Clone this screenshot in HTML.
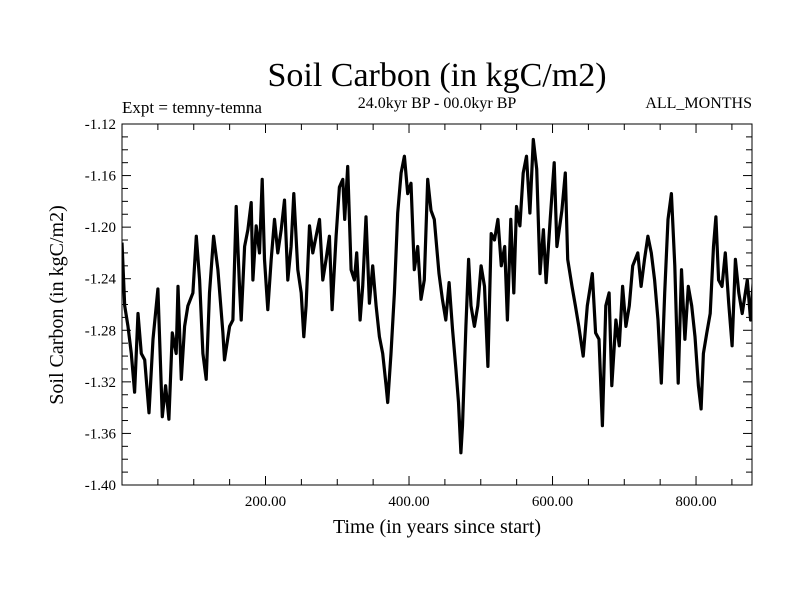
<!DOCTYPE html>
<html><head><meta charset="utf-8"><style>
body{margin:0;background:#fff;width:800px;height:600px;overflow:hidden}
svg{font-family:"Liberation Serif",serif}
</style></head><body>
<svg id="chart" width="800" height="600">
<text x="437" y="86" font-size="34" text-anchor="middle">Soil Carbon (in kgC/m2)</text>
<text x="122" y="113" font-size="17">Expt = temny-temna</text>
<text x="437" y="108" font-size="16" text-anchor="middle">24.0kyr BP - 00.0kyr BP</text>
<text x="752" y="108" font-size="16" text-anchor="end">ALL_MONTHS</text>
<text x="437" y="533" font-size="20" text-anchor="middle">Time (in years since start)</text>
<text transform="translate(63,305) rotate(-90)" font-size="20" text-anchor="middle">Soil Carbon (in kgC/m2)</text>
<g id="ticks"></g>
<clipPath id="clip"><rect x="122" y="124" width="630" height="361"/></clipPath>
<path id="series" fill="none" stroke="#000" stroke-width="3.2" stroke-linejoin="round" clip-path="url(#clip)"/>
<rect x="122" y="124" width="630" height="361" fill="none" stroke="#000" stroke-width="1"/>
</svg>
<script>
const years=[0,3.7,8.4,13,17.6,22.3,26.9,31.6,37.6,43.2,50.1,56.1,60.8,65.4,70.1,75.6,78,82.6,87.2,91.9,98.8,103.5,108.1,112.8,117.4,122,127.6,133.6,140.6,142.9,149.9,154.5,159.2,163.8,166.1,170.8,175.4,180,182.4,187,191.6,195.4,198.6,203.2,207.9,212.5,217.2,221.8,226.5,231.1,235.7,239.4,245,249.7,253.4,256.6,261.3,265.9,270.5,275.2,279.8,284.5,289.1,292.8,298.4,303,307.7,310.4,314.6,319.3,323.9,327.1,331.8,335.5,340.1,344.8,349.4,354.1,358.7,363.3,368,370.3,374.9,379.6,384.2,388.9,393.5,398.1,402.8,407.4,412.1,416.7,421.3,426,430.6,435.3,441.8,446.5,451.2,455.9,460.6,465.3,469,472.3,474.6,479.3,483.1,486.4,491.1,495.8,500.5,505.2,509.9,514.6,519.2,523.9,528.6,533.3,537.1,541.8,546,549.8,554.5,559.2,563.8,568.5,573.2,577.9,582.6,587.3,591.1,596.7,602.3,606.1,613.1,617.8,621.1,627.2,631.9,636.6,642.7,648.4,655.4,660.1,664.8,669.5,674.2,678.9,682.6,688.3,693,697.7,702.3,707,711.7,718.8,723.5,728.2,732.9,737.6,742.3,747,751.6,756.3,761,765.7,770.4,775.1,779.8,784.5,789.2,793.9,798.6,803.3,807,810.3,815,819.7,824.4,827.7,831.5,836.2,840.8,845.5,850.2,854.9,859.6,864.3,871.4,876.1,880.8];
const carbon=[-1.212,-1.261,-1.277,-1.298,-1.328,-1.267,-1.298,-1.303,-1.344,-1.287,-1.248,-1.347,-1.323,-1.349,-1.282,-1.298,-1.246,-1.318,-1.277,-1.261,-1.251,-1.207,-1.241,-1.298,-1.318,-1.251,-1.207,-1.233,-1.282,-1.303,-1.277,-1.272,-1.184,-1.246,-1.272,-1.215,-1.202,-1.181,-1.241,-1.199,-1.220,-1.163,-1.225,-1.264,-1.225,-1.194,-1.220,-1.202,-1.179,-1.241,-1.215,-1.174,-1.233,-1.251,-1.285,-1.261,-1.199,-1.220,-1.207,-1.194,-1.241,-1.225,-1.207,-1.264,-1.207,-1.169,-1.163,-1.194,-1.153,-1.233,-1.241,-1.220,-1.272,-1.246,-1.192,-1.259,-1.230,-1.261,-1.285,-1.298,-1.323,-1.336,-1.298,-1.251,-1.189,-1.158,-1.145,-1.174,-1.166,-1.233,-1.215,-1.256,-1.241,-1.163,-1.187,-1.194,-1.236,-1.256,-1.272,-1.243,-1.279,-1.310,-1.336,-1.375,-1.354,-1.277,-1.225,-1.261,-1.277,-1.261,-1.230,-1.246,-1.308,-1.205,-1.210,-1.194,-1.230,-1.215,-1.272,-1.194,-1.251,-1.184,-1.199,-1.158,-1.145,-1.189,-1.132,-1.155,-1.236,-1.202,-1.243,-1.194,-1.150,-1.215,-1.187,-1.158,-1.225,-1.246,-1.261,-1.277,-1.300,-1.261,-1.236,-1.282,-1.287,-1.354,-1.261,-1.251,-1.323,-1.272,-1.292,-1.246,-1.277,-1.261,-1.230,-1.220,-1.246,-1.225,-1.207,-1.220,-1.241,-1.272,-1.321,-1.251,-1.194,-1.174,-1.230,-1.321,-1.233,-1.287,-1.246,-1.261,-1.285,-1.323,-1.341,-1.298,-1.282,-1.267,-1.215,-1.192,-1.241,-1.246,-1.220,-1.259,-1.292,-1.225,-1.251,-1.267,-1.241,-1.272,-1.233];
const xTickLabels=["200.00","400.00","600.00","800.00"];
const xTickValues=[200,400,600,800];
const yTickLabels=["-1.12","-1.16","-1.20","-1.24","-1.28","-1.32","-1.36","-1.40"];
const yTickValues=[-1.12,-1.16,-1.20,-1.24,-1.28,-1.32,-1.36,-1.40];

const L=122,R=752,T=124,B=485,XMIN=0,XMAX=878,YMIN=-1.40,YMAX=-1.12;
const sx=v=>L+(v-XMIN)/(XMAX-XMIN)*(R-L);
const sy=v=>B-(v-YMIN)/(YMAX-YMIN)*(B-T);
const NS="http://www.w3.org/2000/svg";
const g=document.getElementById('ticks');
function line(x1,y1,x2,y2,name){const l=document.createElementNS(NS,'line');
l.setAttribute('x1',x1);l.setAttribute('y1',y1);l.setAttribute('x2',x2);l.setAttribute('y2',y2);
l.setAttribute('stroke','#000');l.setAttribute('stroke-width','1');


g.appendChild(l);}
function text(x,y,s,anchor,name){const t=document.createElementNS(NS,'text');
t.setAttribute('x',x);t.setAttribute('y',y);t.setAttribute('font-size','15');t.setAttribute('text-anchor',anchor);t.textContent=s;


g.appendChild(t);}
for(let v=50;v<XMAX;v+=50){const major=v%200===0;const len=major?9:6;const x=sx(v);
line(x,B,x,B-len,'x-tick');line(x,T,x,T+len,'x-tick-top');}
for(let i=0;i<=28;i++){const v=YMIN+i*0.01;const major=i%4===0;const len=major?9:6;const y=sy(v);
line(L,y,L+len,y,'y-tick');line(R,y,R-len,y,'y-tick-right');}
xTickValues.forEach((v,i)=>text(sx(v),506,xTickLabels[i],'middle','x-tick-label'));
yTickValues.forEach((v,i)=>text(L-6,sy(v)+5,yTickLabels[i],'end','y-tick-label'));
let d='';years.forEach((yr,i)=>{d+=(i?'L':'M')+sx(yr).toFixed(1)+','+sy(carbon[i]).toFixed(1);});
document.getElementById('series').setAttribute('d',d);
</script>
</body></html>
